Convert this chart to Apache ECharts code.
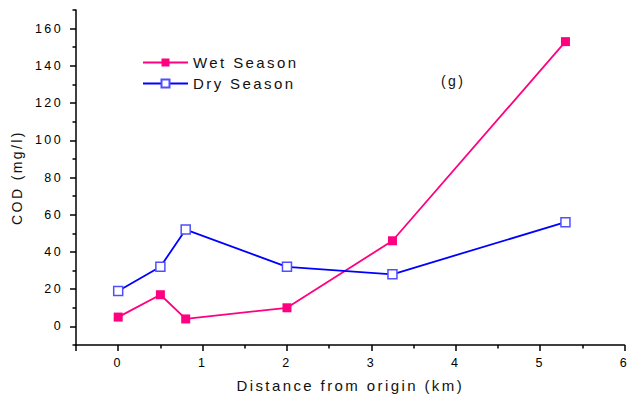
<!DOCTYPE html>
<html>
<head>
<meta charset="UTF-8">
<title>COD</title>
<script src="https://cdn.jsdelivr.net/npm/echarts@6/dist/echarts.min.js"></script>
<style>
  html, body { margin: 0; padding: 0; background: #fff; }
  #main { width: 631px; height: 399px; }
  #main text { letter-spacing: 2.4px; }
</style>
</head>
<body>
<div id="main"></div>
<script>
// data
var distance = [0, 0.5, 0.8, 2, 3.25, 5.3];
var wetSeason = [5, 17, 4, 10, 46, 153];
var drySeason = [19, 32, 52, 32, 28, 56];

var xMajor = [-0.5, 0, 1, 2, 3, 4, 5, 6];
var xMinor = [0.5, 1.5, 2.5, 3.5, 4.5, 5.5];
var yMajor = [0, 20, 40, 60, 80, 100, 120, 140, 160];
var yMinor = [-10, 10, 30, 50, 70, 90, 110, 130, 150, 170];

var font = 'Liberation Sans, Arial, sans-serif';

function pairs(xs, ys) {
  return xs.map(function (x, i) { return [x, ys[i]]; });
}

var chart = echarts.init(document.getElementById('main'), null, { renderer: 'svg' });

var option = {
  animation: false,
  grid: { left: 76, right: 5, top: 10, bottom: 54, containLabel: false },
  legend: {
    orient: 'vertical',
    left: 137,
    top: 50,
    itemWidth: 45,
    itemHeight: 10,
    itemGap: 6,
    textStyle: { fontFamily: font, fontSize: 15, color: '#111' },
    data: ['Wet Season', 'Dry Season']
  },
  xAxis: [{
    type: 'value', min: -0.5, max: 6,
    position: 'bottom',
    splitLine: { show: false },
    axisLine: { onZero: false, lineStyle: { color: '#000', width: 1.5 } },
    axisTick: { customValues: xMajor, length: 6, lineStyle: { color: '#000', width: 1.5 } },
    axisLabel: {
      customValues: xMajor.filter(function (v) { return v >= 0; }),
      margin: 11, fontFamily: font, fontSize: 12.5, color: '#000'
    },
    name: 'Distance from origin (km)',
    nameLocation: 'middle',
    nameGap: 33,
    nameTextStyle: { fontFamily: font, fontSize: 15, color: '#111' }
  }, {
    type: 'value', min: -0.5, max: 6,
    position: 'bottom',
    splitLine: { show: false },
    axisLine: { show: false, onZero: false },
    axisTick: { customValues: xMinor, length: 3.5, lineStyle: { color: '#000', width: 1.5 } },
    axisLabel: { show: false }
  }],
  yAxis: [{
    type: 'value', min: -10, max: 170,
    position: 'left',
    splitLine: { show: false },
    axisLine: { show: true, onZero: false, lineStyle: { color: '#000', width: 1.5 } },
    axisTick: { show: true, customValues: yMajor, length: 6, lineStyle: { color: '#000', width: 1.5 } },
    axisLabel: {
      customValues: yMajor,
      margin: 13, fontFamily: font, fontSize: 12.5, color: '#000'
    },
    name: 'COD (mg/l)',
    nameLocation: 'middle',
    nameGap: 52,
    nameTextStyle: { fontFamily: font, fontSize: 14, color: '#111' }
  }, {
    type: 'value', min: -10, max: 170,
    position: 'left',
    splitLine: { show: false },
    axisLine: { show: false, onZero: false },
    axisTick: { show: true, customValues: yMinor, length: 3.5, lineStyle: { color: '#000', width: 1.5 } },
    axisLabel: { show: false }
  }],
  graphic: [{
    type: 'text',
    left: 441,
    top: 74,
    style: { text: '(g)', font: '14px ' + font, fill: '#111' }
  }],
  series: [{
    name: 'Wet Season',
    type: 'line',
    data: pairs(distance, wetSeason),
    symbol: 'rect',
    symbolSize: 9,
    lineStyle: { color: '#ff0080', width: 1.8 },
    itemStyle: { color: '#ff0080' }
  }, {
    name: 'Dry Season',
    type: 'line',
    data: pairs(distance, drySeason),
    symbol: 'rect',
    symbolSize: 9,
    lineStyle: { color: '#0000ff', width: 1.8 },
    itemStyle: { color: '#fff', borderColor: '#4f4fff', borderWidth: 1.5 }
  }]
};

chart.setOption(option);
</script>
</body>
</html>
